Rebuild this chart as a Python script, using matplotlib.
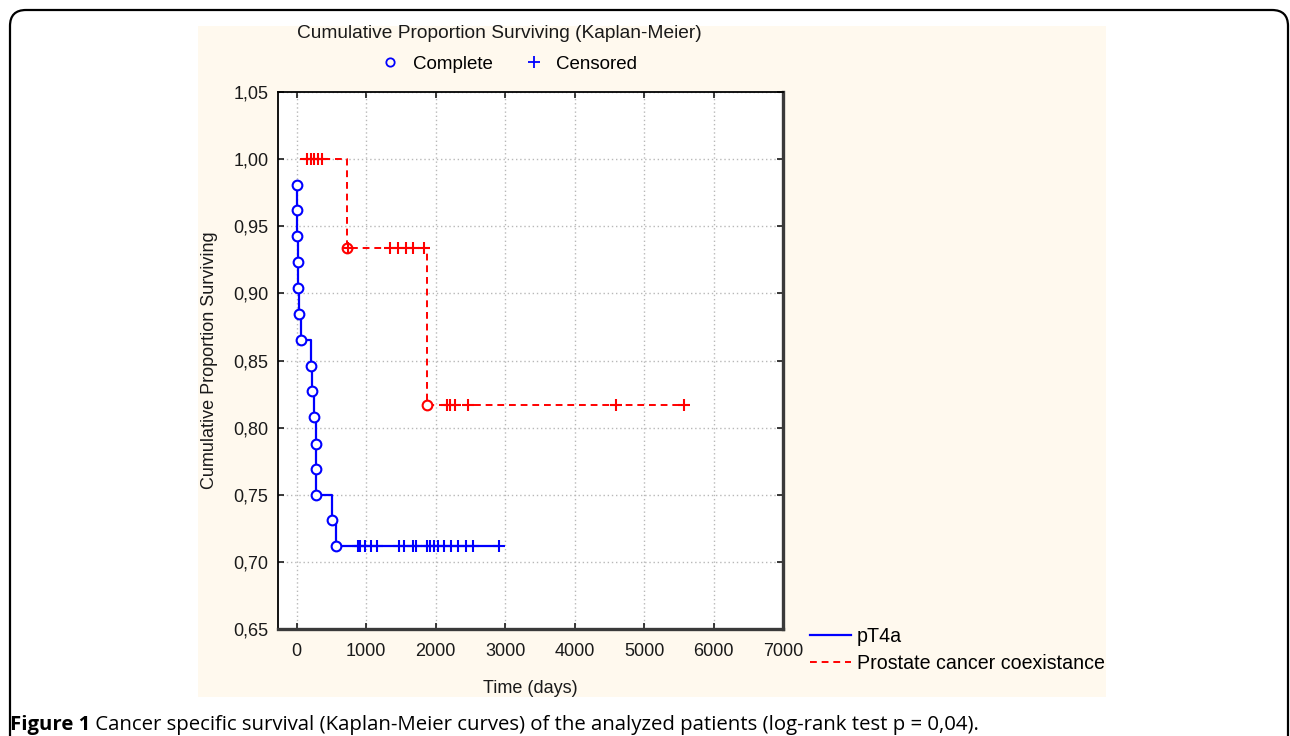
import numpy as np
import matplotlib
matplotlib.use("Agg")
from matplotlib import pyplot as plt
from matplotlib.lines import Line2D
from matplotlib.patches import Rectangle, FancyBboxPatch
from matplotlib.ticker import MultipleLocator, FuncFormatter

plt.rcParams['font.family'] = ['Liberation Sans', 'DejaVu Sans']

# pT4a group: deaths (time in days, survival after the death) and censored times
blue_event_t = [0, 5, 10, 20, 25, 30, 62, 201, 225, 244, 273, 273, 273, 512, 565]
blue_event_s = [0.981, 0.962, 0.943, 0.923, 0.904, 0.885, 0.865, 0.846, 0.827,
                0.808, 0.788, 0.769, 0.750, 0.731, 0.712]
blue_cens_t = [878, 911, 983, 1069, 1151, 1472, 1544, 1678, 1712, 1871, 1918,
               1980, 2037, 2124, 2220, 2325, 2436, 2541, 2915]

# prostate cancer coexistance group
red_start_t = 40
red_event_t = [719, 1880]
red_event_s = [0.934, 0.817]
red_cens_t = [150, 200, 250, 302, 364,
              743, 1342, 1462, 1568, 1678, 1832,
              2160, 2210, 2280, 2470, 4595, 5577]

yticks_fmt = lambda v, _: ("%.2f" % v).replace('.', ',')

fig = plt.figure(figsize=(12.9, 7.36), dpi=100)
fig.patch.set_facecolor('white')

# outer rounded frame of the figure box and the cream panel
frame = FancyBboxPatch((0.1, -0.6), 12.78, 7.86, boxstyle="round,pad=0,rounding_size=0.16",
                       transform=fig.dpi_scale_trans, fill=False, ec='black', lw=1.6, zorder=-2)
fig.patches.append(frame)
fig.patches.append(Rectangle((198 / 1290, 1 - 697 / 736), 908 / 1290, 671 / 736,
                             transform=fig.transFigure, fc='#fff9ee', ec='none', zorder=-1))

ax = fig.add_axes([278 / 1290, 1 - 629 / 736, 505 / 1290, 537 / 736])
ax.set_facecolor('white')


def survival_at(t, times, surv, s0):
    s = s0
    for ti, si in zip(times, surv):
        if ti <= t:
            s = si
    return s


# blue step curve
bx = blue_event_t + [max(blue_cens_t)]
by = blue_event_s + [blue_event_s[-1]]
l1, = ax.step(bx, by, where='post', color='#0000ff', lw=1.6, zorder=3)
ax.plot(blue_event_t, blue_event_s, 'o', mfc='white', mec='#0000ff', ms=7, mew=1.5, zorder=4)
ax.plot(blue_cens_t, [survival_at(t, blue_event_t, blue_event_s, 1.0) for t in blue_cens_t],
        '+', color='#0000ff', ms=9, mew=1.5, zorder=4)

# red step curve
rx = [red_start_t] + red_event_t + [max(red_cens_t)]
ry = [1.0] + red_event_s + [red_event_s[-1]]
l2, = ax.step(rx, ry, where='post', color='#ff0000', lw=1.4, dashes=(3.5, 2.5), zorder=3)
ax.plot(red_event_t, red_event_s, 'o', mfc='white', mec='#ff0000', ms=7, mew=1.5, zorder=4)
ax.plot(red_cens_t, [survival_at(t, red_event_t, red_event_s, 1.0) for t in red_cens_t],
        '+', color='#ff0000', ms=9, mew=1.5, zorder=4)

ax.set_xlim(-270, 7000)
ax.set_ylim(0.65, 1.05)
ax.xaxis.set_major_locator(MultipleLocator(1000))
ax.yaxis.set_major_locator(MultipleLocator(0.05))
ax.yaxis.set_major_formatter(FuncFormatter(yticks_fmt))
ax.grid(True, color='#b8b8b8', ls=(0, (1, 2)), lw=1)
ax.tick_params(direction='in', length=4, width=1.2, labelsize=13, colors='#1a1a1a',
               top=True, right=True)
ax.tick_params(axis='x', pad=10)
ax.tick_params(axis='y', pad=7)
for side in ['top', 'left']:
    ax.spines[side].set_linewidth(1.3)
for side in ['right', 'bottom']:
    ax.spines[side].set_linewidth(2.4)
    ax.spines[side].set_color('#3a3a3a')

ax.set_xlabel('Time (days)', fontsize=13, color='#1a1a1a')
ax.set_ylabel('Cumulative Proportion Surviving', fontsize=13, color='#1a1a1a')
ax.xaxis.set_label_coords(0.5, -0.095)
ax.yaxis.set_label_coords(-0.118, 0.5)

fig.text(499 / 1290, 1 - 34 / 736, 'Cumulative Proportion Surviving (Kaplan-Meier)',
         ha='center', va='center', fontsize=13.8, color='#1a1a1a')

h_comp = Line2D([], [], marker='o', ls='none', mfc='none', mec='#0000ff', ms=6, mew=1.3)
h_cens = Line2D([], [], marker='+', ls='none', color='#0000ff', ms=8, mew=1.3)
fig.legend([h_comp, h_cens], ['Complete', 'Censored'], loc='center', ncol=2,
           bbox_to_anchor=(508 / 1290, 1 - 64 / 736), frameon=False, fontsize=13.5,
           handlelength=1.2, handletextpad=0.6, columnspacing=1.6)

fig.legend([l1, l2], ['pT4a', 'Prostate cancer coexistance'], loc='upper left',
           bbox_to_anchor=(810 / 1290, 1 - 627 / 736), frameon=False, fontsize=14.1,
           handlelength=2.1, handletextpad=0.3, labelspacing=0.42, borderpad=0, borderaxespad=0)

cap1 = fig.text(10 / 1290, 1 - 735 / 736, 'Figure 1', fontsize=14.7, fontweight='bold',
                family='Open Sans', ha='left', va='bottom')
ax.annotate(' Cancer specific survival (Kaplan-Meier curves) of the analyzed patients '
            '(log-rank test p = 0,04).', xy=(1, 0), xycoords=cap1, fontsize=14.7,
            family='Open Sans', ha='left', va='bottom', annotation_clip=False)

fig.savefig('out.png', dpi=100)
